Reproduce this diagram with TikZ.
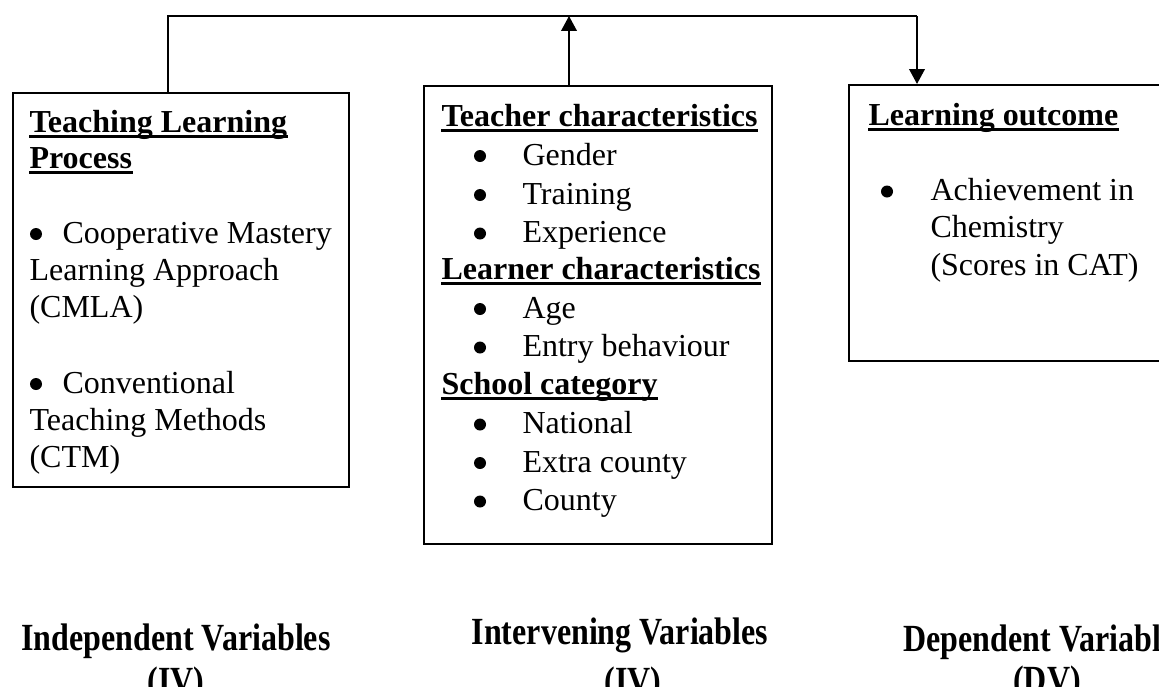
\documentclass[tikz,border=0pt]{standalone}
\usepackage{fontspec}
\setmainfont{Liberation Serif}
\usetikzlibrary{arrows.meta}
\begin{document}
\begin{tikzpicture}[x=0.375pt,y=-0.375pt,
  txt/.style={inner sep=0pt,anchor=base west,font=\fontsize{12}{14}\selectfont},
  hd/.style={inner sep=0pt,anchor=base west,font=\fontsize{12}{14}\selectfont\bfseries},
  bul/.style={circle,fill,inner sep=0pt,minimum size=4.5pt},
  boxst/.style={draw,line width=0.75pt,inner sep=0pt,anchor=north west},
  conn/.style={line width=0.8pt},
  arr/.style={conn,-{Triangle[length=5.6pt,width=5.8pt]}},
  ul/.style={line width=1.1pt},
  lab/.style={inner sep=0pt,anchor=base,font=\fontsize{12}{14}\selectfont\bfseries}]
\clip (0,0) rectangle (1159,686);
% boxes
\node[boxst,minimum width=126pt,minimum height=147.75pt] (lbox) at (12,92) {};
\node[boxst,minimum width=130.5pt,minimum height=171.75pt] (mbox) at (423,85) {};
\node[boxst,minimum width=122.6pt,minimum height=103.5pt] (rbox) at (848,84) {};
% connectors
\coordinate (tl) at (168,16);
\coordinate (tm) at (569,16);
\coordinate (tr) at (917,16);
\draw[conn] (lbox.north -| tl) -- (tl) -- (tr);
\draw[arr] (mbox.north -| tm) -- (tm);
\draw[arr] (tr) -- (rbox.north -| tr);
% left box text
\node[hd] (l1) at (29,132) {Teaching Learning};
\node[hd] (l2) at (29,168) {Process};
\node[bul] (lb1) at (36,234) {};
\node[txt] (l3) at (62,243) {Cooperative Mastery};
\node[txt] (l4) at (29,280) {Learning Approach};
\node[txt] (l5) at (29,317) {(CMLA)};
\node[bul] (lb2) at (36,384) {};
\node[txt] (l6) at (62,393) {Conventional};
\node[txt] (l7) at (29,430) {Teaching Methods};
\node[txt] (l8) at (29,467) {(CTM)};
\foreach \h in {l1,l2}{\draw[ul] ([yshift=-1.6pt]\h.base west) -- ([yshift=-1.6pt]\h.base east);}
% middle box text
\node[hd] (m1) at (441,126) {Teacher characteristics};
\node[bul] (mb1) at (480,156) {};
\node[txt] (m2) at (522,165) {Gender};
\node[bul] (mb2) at (480,195) {};
\node[txt] (m3) at (522,204) {Training};
\node[bul] (mb3) at (480,233.5) {};
\node[txt] (m4) at (522,242.5) {Experience};
\node[hd] (m5) at (441,279) {Learner characteristics};
\node[bul] (mb4) at (480,309) {};
\node[txt] (m6) at (522,318) {Age};
\node[bul] (mb5) at (480,347.5) {};
\node[txt] (m7) at (522,356.5) {Entry behaviour};
\node[hd] (m8) at (441,394.5) {School category};
\node[bul] (mb6) at (480,424.5) {};
\node[txt] (m9) at (522,433.5) {National};
\node[bul] (mb7) at (480,463) {};
\node[txt] (m10) at (522,472) {Extra county};
\node[bul] (mb8) at (480,501.5) {};
\node[txt] (m11) at (522,510.5) {County};
\foreach \h in {m1,m5,m8}{\draw[ul] ([yshift=-1.6pt]\h.base west) -- ([yshift=-1.6pt]\h.base east);}
% right box text
\node[hd] (r1) at (868,125) {Learning outcome};
\draw[ul] ([yshift=-1.6pt]r1.base west) -- ([yshift=-1.6pt]r1.base east);
\node[bul] (rb1) at (887,191.5) {};
\node[txt] (r2) at (930,200) {Achievement in};
\node[txt] (r3) at (930,237) {Chemistry};
\node[txt] (r4) at (930,275.5) {(Scores in CAT)};
% bottom labels
\node[lab] (iv1) at (176,650) {\scalebox{1}[1.2]{Independent Variables}};
\node[lab] (iv2) at (176,693) {\scalebox{1}[1.2]{(IV)}};
\node[lab] (nv1) at (620,644) {\scalebox{1}[1.2]{Intervening Variables}};
\node[lab] (nv2) at (633,693) {\scalebox{1}[1.2]{(IV)}};
\node[anchor=base west,inner sep=0pt,font=\fontsize{12}{14}\selectfont\bfseries] (dv1) at (903,651) {\scalebox{1}[1.2]{Dependent Variables}};
\node[lab] (dv2) at (1047,692) {\scalebox{1}[1.2]{(DV)}};
\end{tikzpicture}
\end{document}
